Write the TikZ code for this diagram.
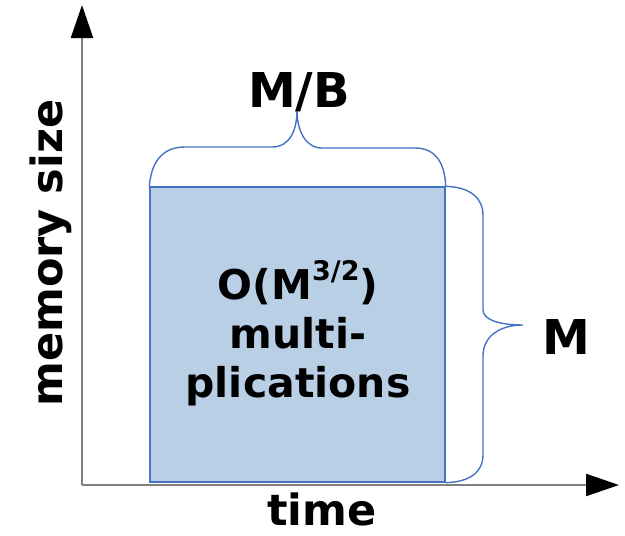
\documentclass[tikz,border=0pt]{standalone}
\usepackage{fontspec}
\setmainfont{DejaVu Sans}
\usetikzlibrary{arrows.meta}
\definecolor{axisgray}{HTML}{808080}
\definecolor{boxfill}{HTML}{B8CFE6}
\definecolor{boxline}{HTML}{4472C4}
\tikzset{
  axis/.style={draw=axisgray, line width=2.2pt, -{Triangle[length=33pt,width=22pt,fill=black,color=black]}},
  blockbox/.style={fill=boxfill, draw=boxline, line width=1.3pt},
  brace/.style={draw=boxline, line width=1.4pt},
  biglabel/.style={font=\fontsize{48}{48}\selectfont\bfseries, inner sep=0pt, anchor=base},
  axislabel/.style={font=\fontsize{43}{43}\selectfont\bfseries, inner sep=0pt, anchor=base},
  inlabel/.style={font=\fontsize{41}{49}\selectfont\bfseries, inner sep=0pt, align=center}
}
\begin{document}
\begin{tikzpicture}[x=1pt, y=-1pt]
  \useasboundingbox (0,0) rectangle (625,536);

  % axes
  \coordinate (origin) at (82,485);
  \coordinate (ytip) at (82,5);
  \coordinate (xtip) at (619,485);
  \draw[axis] (origin) -- (ytip);
  \draw[axis] (origin) -- (xtip);

  % the block of work
  \node[blockbox, minimum width=295pt, minimum height=295pt, inner sep=0pt] (block) at (297.5,334.5) {};

  % brace over the width
  \draw[brace] (block.north west)
    .. controls (151,165) and (160,147) .. (185,147) -- (272,147)
    .. controls (290,147) and (297,130) .. (297,110)
    .. controls (297,130) and (305,148) .. (322,148) -- (415,148)
    .. controls (437,148) and (445,165) .. (block.north east);

  % brace along the height
  \draw[brace] (block.north east)
    .. controls (470,187) and (483,198) .. (483,215) -- (483,310)
    .. controls (483,320) and (500,325) .. (523,325)
    .. controls (500,325) and (483,336) .. (483,356) -- (483,455)
    .. controls (483,472) and (470,482) .. (block.south east);

  % labels
  \node[biglabel] (mb) at (299,107) {M/B};
  \node[biglabel] (m) at (566,354) {M};
  \node[axislabel] (time) at (322,525) {time};
  \node[axislabel, rotate=90] (mem) at (62,253) {memory size};
  \node[inlabel] (work) at (298,333)
    {O(M\raisebox{19pt}{\fontsize{27}{27}\selectfont 3/2})\\multi-\\plications};
\end{tikzpicture}
\end{document}
